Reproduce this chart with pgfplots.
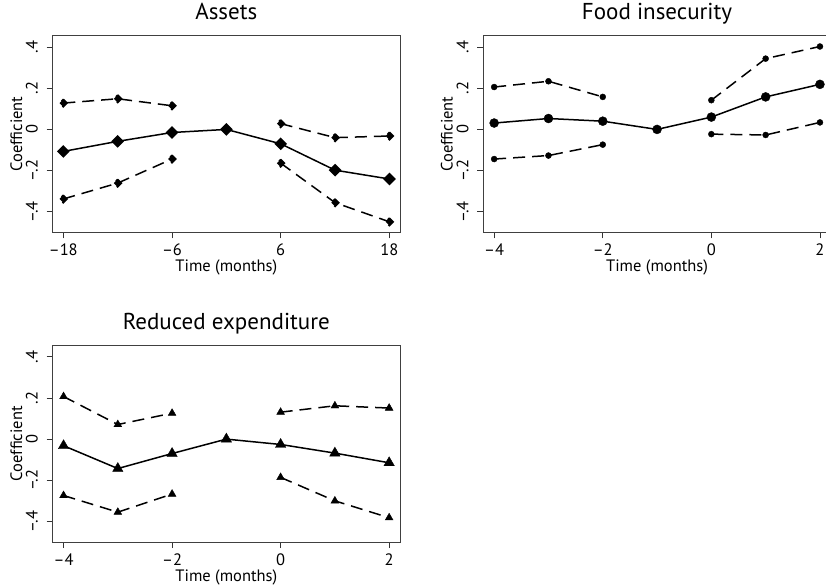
\documentclass[border=0pt]{standalone}
\usepackage{fontspec}
\setmainfont{PT Sans}
\usepackage{pgfplots}
\pgfplotsset{compat=1.18}
\begin{document}
\begin{tikzpicture}
\pgfplotsset{
  panel/.style={
    scale only axis, width=347.3pt, height=196.5pt,
    anchor=south west, clip=false,
    ymin=-0.5, ymax=0.455,
    ytick={-0.4,-0.2,0,0.2,0.4},
    yticklabels={–.4,–.2,0,.2,.4},
    tick align=outside, tick pos=left, major tick length=6pt,
    tick style={black!80, line width=0.8pt},
    axis line style={black!75, line width=0.9pt},
    every tick label/.append style={font=\fontsize{16.5}{19}\selectfont},
    yticklabel style={rotate=90, anchor=base, inner sep=0pt},
    xticklabel style={anchor=base, inner sep=0pt},
    yticklabel shift=9pt,
    xticklabel shift=17pt,
    xlabel={Time (months)}, ylabel={Coefficient},
    xlabel style={at={(axis description cs:0.5,0)}, anchor=base, yshift=-39.5pt, inner sep=0pt, font=\fontsize{16.5}{19}\selectfont},
    ylabel style={at={(axis description cs:-0.0884,0.5)}, anchor=base, inner sep=0pt, font=\fontsize{16.5}{19}\selectfont},
    title style={at={(axis description cs:0.5,1)}, anchor=base, yshift=10pt, inner sep=0pt, font=\fontsize{23}{27}\selectfont},
    unbounded coords=jump,
  },
  est/.style={black, line width=1.5pt, mark options={solid, line width=0.4pt}},
  ci/.style={black, line width=1.5pt, dash pattern=on 12pt off 7pt, mark options={solid, line width=0.4pt}},
}
% ---------------- Assets ----------------
\begin{axis}[panel, at={(52.7pt,354.7pt)}, title={Assets},
  xmin=-19.17, xmax=19.17, xtick={-18,-6,6,18}, xticklabels={–18,–6,6,18}]
\addplot[est, mark=diamond*, mark size=5.3pt, mark options={xscale=1.333}] coordinates {
  (-18,-0.107) (-12,-0.058) (-6,-0.015) (0,0) (6,-0.070) (12,-0.198) (18,-0.241)};
\addplot[ci, mark=diamond*, mark size=3.8pt, mark options={xscale=1.333}] coordinates {
  (-18,0.128) (-12,0.149) (-6,0.115) (0,nan) (6,0.028) (12,-0.040) (18,-0.032)};
\addplot[ci, mark=diamond*, mark size=3.8pt, mark options={xscale=1.333}] coordinates {
  (-18,-0.338) (-12,-0.261) (-6,-0.144) (0,nan) (6,-0.164) (12,-0.356) (18,-0.449)};
\end{axis}
% ---------------- Food insecurity ----------------
\begin{axis}[panel, at={(483.3pt,354.7pt)}, width=347.5pt, title={Food insecurity},
  xmin=-4.2, xmax=2.2, xtick={-4,-2,0,2}, xticklabels={–4,–2,0,2}]
\addplot[est, mark=*, mark size=4.5pt] coordinates {
  (-4,0.031) (-3,0.053) (-2,0.040) (-1,0) (0,0.060) (1,0.158) (2,0.219)};
\addplot[ci, mark=*, mark size=3pt] coordinates {
  (-4,0.206) (-3,0.234) (-2,0.158) (-1,nan) (0,0.142) (1,0.344) (2,0.403)};
\addplot[ci, mark=*, mark size=3pt] coordinates {
  (-4,-0.144) (-3,-0.127) (-2,-0.074) (-1,nan) (0,-0.023) (1,-0.027) (2,0.034)};
\end{axis}
% ---------------- Reduced expenditure ----------------
\begin{axis}[panel, at={(52.7pt,45pt)}, title={Reduced expenditure},
  xmin=-4.2, xmax=2.2, xtick={-4,-2,0,2}, xticklabels={–4,–2,0,2}]
\addplot[est, mark=triangle*, mark size=6pt] coordinates {
  (-4,-0.032) (-3,-0.143) (-2,-0.070) (-1,0) (0,-0.026) (1,-0.068) (2,-0.115)};
\addplot[ci, mark=triangle*, mark size=4.5pt] coordinates {
  (-4,0.207) (-3,0.071) (-2,0.126) (-1,nan) (0,0.131) (1,0.162) (2,0.151)};
\addplot[ci, mark=triangle*, mark size=4.5pt] coordinates {
  (-4,-0.274) (-3,-0.355) (-2,-0.267) (-1,nan) (0,-0.186) (1,-0.300) (2,-0.382)};
\end{axis}
\pgfresetboundingbox
\useasboundingbox (0,0) rectangle (826pt,587pt);
\end{tikzpicture}
\end{document}
